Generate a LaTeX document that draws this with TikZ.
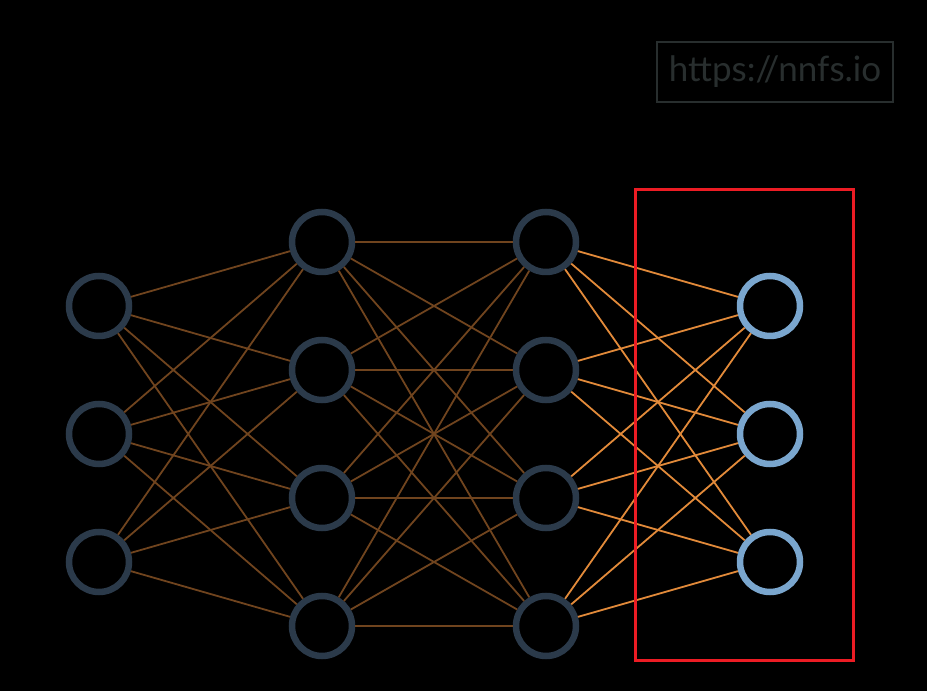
\documentclass[tikz,border=0pt]{standalone}
\usepackage{fontspec}
\setsansfont{Lato}
\usepackage{tikz}
\usetikzlibrary{positioning}
\definecolor{ndark}{RGB}{43,58,74}
\definecolor{nlight}{RGB}{122,166,206}
\definecolor{wdim}{RGB}{112,68,30}
\definecolor{wbright}{RGB}{226,138,58}
\definecolor{boxred}{RGB}{236,28,36}
\definecolor{tagg}{RGB}{40,46,46}
\tikzset{
  neuron/.style={circle, draw=ndark, fill=black, line width=6.5pt, minimum size=60pt, inner sep=0pt},
  outneuron/.style={neuron, draw=nlight},
  wd/.style={wdim, line width=1.8pt},
  wb/.style={wbright, line width=1.8pt},
  selbox/.style={draw=boxred, line width=3pt},
  tag/.style={draw=tagg, line width=2pt, font=\sffamily\fontsize{35}{35}\selectfont, text=tagg, inner sep=0pt, minimum width=236pt, minimum height=60pt}
}
\begin{document}
\begin{tikzpicture}[x=1pt, y=1pt]
        \fill[black] (0,0) rectangle (927,691);
        \useasboundingbox (0,0) rectangle (927,691);
        % input layer
        \node[neuron] (i1) at (99,385) {};
        \node[neuron] (i2) at (99,257) {};
        \node[neuron] (i3) at (99,129) {};
        % hidden layer 1
        \node[neuron] (a1) at (322,449) {};
        \node[neuron] (a2) at (322,321) {};
        \node[neuron] (a3) at (322,193) {};
        \node[neuron] (a4) at (322,65) {};
        % hidden layer 2
        \node[neuron] (b1) at (546,449) {};
        \node[neuron] (b2) at (546,321) {};
        \node[neuron] (b3) at (546,193) {};
        \node[neuron] (b4) at (546,65) {};
        % output layer
        \node[outneuron] (o1) at (770,385) {};
        \node[outneuron] (o2) at (770,257) {};
        \node[outneuron] (o3) at (770,129) {};
        % weights
        \foreach \s in {i1,i2,i3}
          \foreach \t in {a1,a2,a3,a4}
            \draw[wd] (\s) -- (\t);
        \foreach \s in {a1,a2,a3,a4}
          \foreach \t in {b1,b2,b3,b4}
            \draw[wd] (\s) -- (\t);
        \foreach \s in {b1,b2,b3,b4}
          \foreach \t in {o1,o2,o3}
            \draw[wb] (\s) -- (\t);
        % highlighted output layer
        \coordinate (boxsw) at (635,30);
        \coordinate (boxne) at (853,501);
        \draw[selbox] (boxsw) rectangle (boxne);
        \node[tag] (site) at (775,619) {https://nnfs.io};
      \end{tikzpicture}
\end{document}
